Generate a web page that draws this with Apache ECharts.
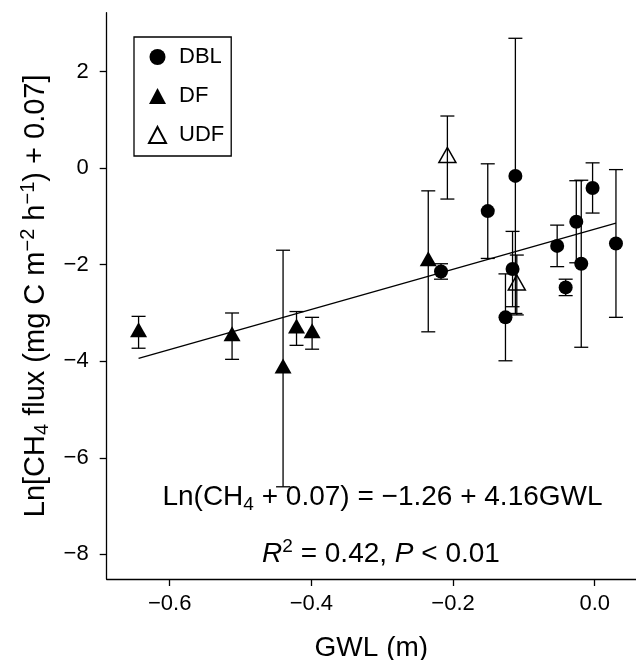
<!DOCTYPE html>
<html><head><meta charset="utf-8">
<script src="https://cdn.jsdelivr.net/npm/echarts@6/dist/echarts.min.js"></script>
<style>html,body{margin:0;padding:0;background:#fff}#c{width:636px;height:660px}</style>
</head><body><div id="c"></div>
<script>
// DBL (filled circles)
const dblX   = [-0.217, -0.151, -0.112, -0.116, -0.126, -0.053, -0.041, -0.026, -0.019, -0.003, 0.030];
const dblY   = [-2.14, -0.89, -0.16, -2.09, -3.09, -1.61, -2.47, -1.11, -1.98, -0.41, -1.56];
const dblErr = [0.16, 0.98, 2.85, 0.78, 0.90, 0.43, 0.17, 0.85, 1.73, 0.52, 1.53];
// DF (filled triangles)
const dfX   = [-0.644, -0.512, -0.440, -0.421, -0.399, -0.235];
const dfY   = [-3.40, -3.48, -4.15, -3.32, -3.42, -1.93];
const dfErr = [0.33, 0.48, 2.45, 0.35, 0.33, 1.46];
// UDF (open triangles)
const udfX   = [-0.208, -0.110];
const udfY   = [0.22, -2.42];
const udfErr = [0.86, 0.62];
// regression line end points
const fitX = [-0.644, 0.030];
const fitY = [-3.94, -1.14];
// ticks
const xTicks = [-0.6, -0.4, -0.2, 0.0];
const yTicks = [-8, -6, -4, -2, 0, 2];

const FONT = 'Liberation Sans';
const pts = (xs, ys) => xs.map((x, i) => [x, ys[i]]);
const errs = (xs, ys, es) => xs.map((x, i) => [x, ys[i], es[i]]);
const minus = s => String(s).replace('-', '\u2212');

function errRender(params, api) {
  const x = api.value(0), y = api.value(1), e = api.value(2);
  const t = api.coord([x, y + e]);
  const b = api.coord([x, y - e]);
  const w = 7;
  const style = {stroke: '#000', lineWidth: 1.3};
  return {type: 'group', children: [
    {type: 'line', shape: {x1: t[0], y1: t[1], x2: b[0], y2: b[1]}, style: style},
    {type: 'line', shape: {x1: t[0] - w, y1: t[1], x2: t[0] + w, y2: t[1]}, style: style},
    {type: 'line', shape: {x1: b[0] - w, y1: b[1], x2: b[0] + w, y2: b[1]}, style: style}
  ]};
}

const chart = echarts.init(document.getElementById('c'), null, {renderer: 'canvas'});
const axisLineStyle = {color: '#000', width: 1.3};
chart.setOption({
  animation: false,
  backgroundColor: '#fff',
  textStyle: {fontFamily: FONT},
  grid: {left: 106.7, top: 12.7, width: 529.3, height: 566.3, outerBoundsMode: 'none', containLabel: false},
  xAxis: {
    type: 'value', min: -0.689, max: 0.0583,
    axisLine: {show: true, onZero: false, lineStyle: axisLineStyle},
    axisTick: {show: true, customValues: xTicks, length: 7, lineStyle: axisLineStyle},
    axisLabel: {customValues: xTicks, formatter: v => minus(v.toFixed(1)), fontSize: 22, color: '#000', fontFamily: FONT, margin: 14},
    splitLine: {show: false},
    name: 'GWL (m)', nameLocation: 'middle', nameGap: 55,
    nameTextStyle: {fontSize: 28, color: '#000', fontFamily: FONT}
  },
  yAxis: {
    type: 'value', min: -8.51, max: 3.22,
    axisLine: {show: true, onZero: false, lineStyle: axisLineStyle},
    axisTick: {show: true, customValues: yTicks, length: 7, lineStyle: axisLineStyle},
    axisLabel: {customValues: yTicks, formatter: v => minus(v), fontSize: 22, color: '#000', fontFamily: FONT, margin: 18},
    splitLine: {show: false},
    name: 'Ln[CH{sub|4} flux (mg C m{sup|\u22122} h{sup|\u22121}) + 0.07]',
    nameLocation: 'middle', nameGap: 54, nameRotate: 90,
    nameTextStyle: {
      fontSize: 29, color: '#000', fontFamily: FONT, lineHeight: 34,
      rich: {
        sub: {fontSize: 20, lineHeight: 20, verticalAlign: 'bottom', color: '#000', fontFamily: FONT},
        sup: {fontSize: 20, lineHeight: 20, verticalAlign: 'top', color: '#000', fontFamily: FONT}
      }
    }
  },
  legend: {
    orient: 'vertical', left: 134, top: 37,
    data: ['DBL', 'DF', 'UDF'],
    borderColor: '#000', borderWidth: 1.3, borderRadius: 0,
    padding: [8, 7, 9, 14], itemGap: 15, itemWidth: 17, itemHeight: 16,
    selectedMode: false,
    textStyle: {fontSize: 22, fontFamily: FONT, color: '#000', lineHeight: 24, padding: [0, 0, 0, 8]}
  },
  graphic: [
    {type: 'text', x: 382.5, y: 497, z: 50,
      style: {text: 'Ln(CH{sub|4} + 0.07) = \u22121.26 + 4.16GWL', fontSize: 28, fontFamily: FONT, fill: '#000',
        align: 'center', verticalAlign: 'middle', lineHeight: 34,
        rich: {sub: {fontSize: 19, lineHeight: 19, verticalAlign: 'bottom', fill: '#000', fontFamily: FONT}}}},
    {type: 'text', x: 381, y: 554, z: 50,
      style: {text: '{i|R}{sup|2} = 0.42, {i|P} < 0.01', fontSize: 28, fontFamily: FONT, fill: '#000',
        align: 'center', verticalAlign: 'middle', lineHeight: 34,
        rich: {
          i: {fontSize: 28, fontStyle: 'italic', fill: '#000', fontFamily: FONT, lineHeight: 34},
          sup: {fontSize: 19, lineHeight: 19, verticalAlign: 'top', fill: '#000', fontFamily: FONT}
        }}}
  ],
  series: [
    {type: 'line', name: 'fit', data: pts(fitX, fitY), symbol: 'none', silent: true,
      lineStyle: {color: '#000', width: 1.3}, z: 1},
    {type: 'custom', name: 'errDBL', data: errs(dblX, dblY, dblErr), renderItem: errRender, encode: {x: 0, y: 1}, z: 2, silent: true},
    {type: 'custom', name: 'errDF', data: errs(dfX, dfY, dfErr), renderItem: errRender, encode: {x: 0, y: 1}, z: 2, silent: true},
    {type: 'custom', name: 'errUDF', data: errs(udfX, udfY, udfErr), renderItem: errRender, encode: {x: 0, y: 1}, z: 2, silent: true},
    {type: 'scatter', name: 'DBL', data: pts(dblX, dblY), symbol: 'circle', symbolSize: 14,
      itemStyle: {color: '#000', opacity: 1}, z: 3},
    {type: 'scatter', name: 'DF', data: pts(dfX, dfY), symbol: 'triangle', symbolSize: [17, 15], symbolOffset: [0, -2.5],
      itemStyle: {color: '#000', opacity: 1}, z: 3},
    {type: 'scatter', name: 'UDF', data: pts(udfX, udfY), symbol: 'triangle', symbolSize: [17, 15], symbolOffset: [0, -2.5],
      itemStyle: {color: 'rgba(0,0,0,0)', borderColor: '#000', borderWidth: 1.5, opacity: 1}, z: 3}
  ]
});
</script>
</body></html>
